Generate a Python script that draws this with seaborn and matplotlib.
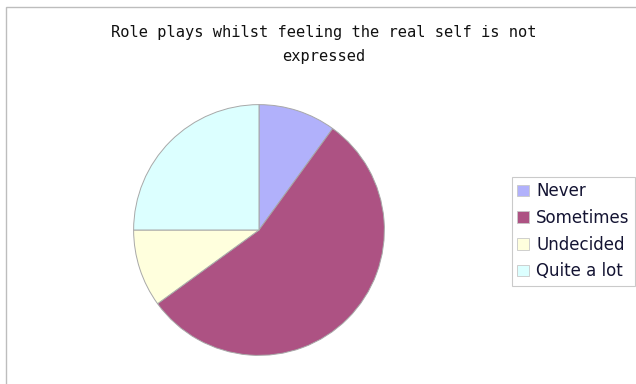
import matplotlib
matplotlib.use("Agg")
import matplotlib.pyplot as plt
import seaborn as sns
from matplotlib.patches import Rectangle

# Survey responses (percent of respondents)
categories = ["Never", "Sometimes", "Undecided", "Quite a lot"]
shares = [10, 55, 10, 25]
colors = ["#b1b1fb", "#ad5283", "#ffffdd", "#dcffff"]
title = "Role plays whilst feeling the real self is not\nexpressed"

sns.set_style("white")

W, H = 636, 384
fig = plt.figure(figsize=(W / 100, H / 100), dpi=100)
fig.patch.set_facecolor("white")

# chart-area border (runs off the right and bottom edges)
fig.patches.append(Rectangle((6 / W, -0.1), 1.2, 1 - 7 / H + 0.1,
                             transform=fig.transFigure, fill=False,
                             edgecolor="#bdbdbd", linewidth=1.0))

# pie: centre (259, 230) px, radius 126 px
cx, cy, r = 259, 230, 126
ax = fig.add_axes([(cx - r) / W, (H - cy - r) / H, 2 * r / W, 2 * r / H])
wedges, _ = ax.pie(shares, colors=colors, startangle=90, counterclock=False,
                   wedgeprops=dict(edgecolor="#a8a8a8", linewidth=0.7))
ax.set_xlim(-1.005, 1.005)
ax.set_ylim(-1.005, 1.005)
ax.set_aspect("equal")
ax.axis("off")

fig.text(324 / W, 1 - 44.5 / H, title, ha="center", va="center",
         family="DejaVu Sans Mono", fontsize=11.05, color="#111111",
         linespacing=1.8)

leg = fig.legend(wedges, categories, loc="upper left",
                 bbox_to_anchor=(512 / W, 1 - 177 / H),
                 bbox_transform=fig.transFigure,
                 fontsize=12, frameon=True, fancybox=False,
                 handlelength=0.68, handleheight=0.68, handletextpad=0.45,
                 labelspacing=0.52, borderpad=0.32, borderaxespad=0)
leg.get_frame().set_edgecolor("#bdbdbd")
leg.get_frame().set_linewidth(0.8)
for t in leg.get_texts():
    t.set_color("#141433")
for h in leg.legend_handles:
    h.set_edgecolor("#c8c8c8")
    h.set_linewidth(0.6)

fig.savefig("out.png", dpi=100)
